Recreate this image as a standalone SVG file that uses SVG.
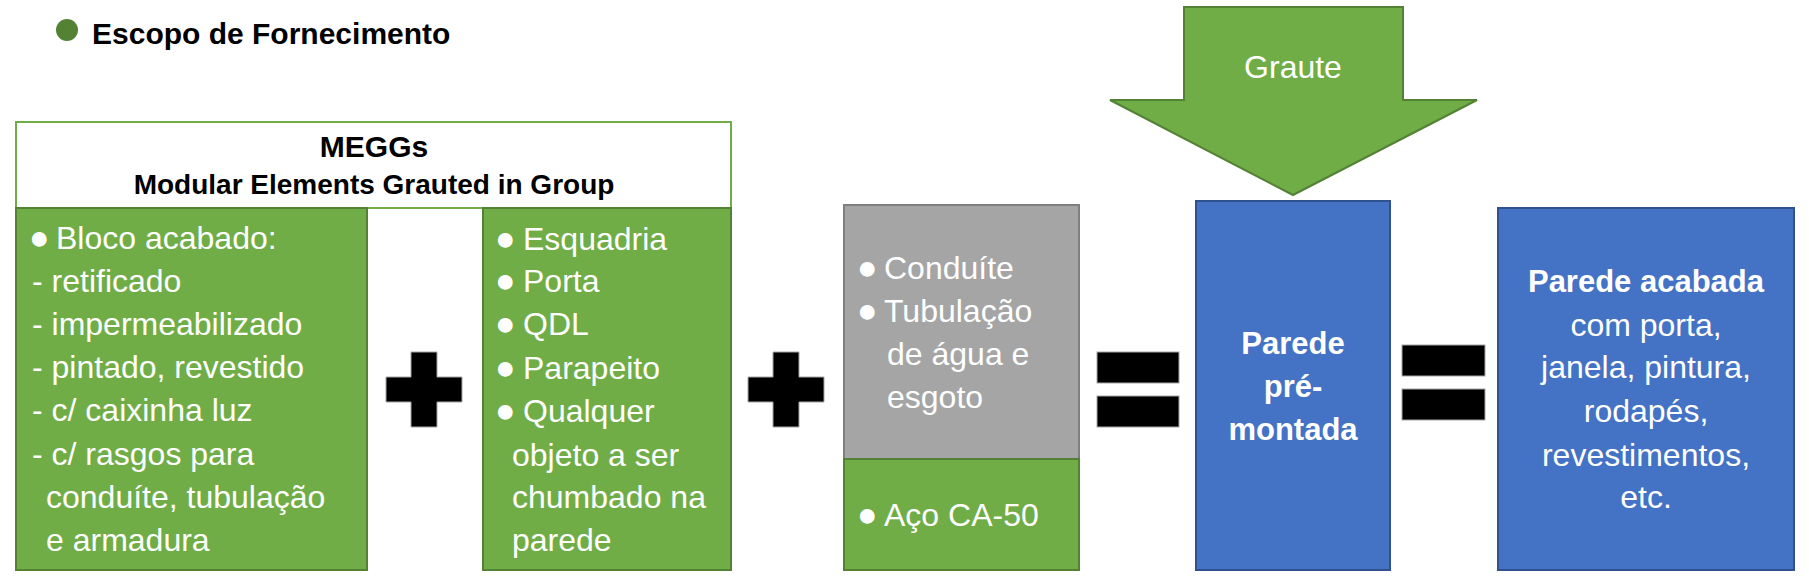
<svg xmlns="http://www.w3.org/2000/svg" width="1809" height="587" viewBox="0 0 1809 587">
<style>
text{font-family:"Liberation Sans",Arial,sans-serif}
.t{font-size:32px;fill:#fff}
.tb{font-size:31px;font-weight:bold;fill:#fff}
.bu{font-size:34px}
.c{text-anchor:middle}
.green{fill:#70AD47;stroke:#548235;stroke-width:2}
.blue{fill:#4472C4;stroke:#2F528F;stroke-width:2}
.gray{fill:#A5A5A5;stroke:#7F7F7F;stroke-width:2}
.op{fill:#000;stroke:#A5A5A5;stroke-width:1}
</style>
<rect width="1809" height="587" fill="#fff"/>
<g id="title">
<circle cx="67" cy="30" r="11" fill="#548235"/>
<text x="92" y="44" style="font-size:30px;font-weight:bold" fill="#000">Escopo de Fornecimento</text>
</g>
<g id="meggs">
<rect x="16" y="122" width="715" height="86" fill="#fff" stroke="#70AD47" stroke-width="2"/>
<text class="c" x="374" y="157" style="font-size:30px;font-weight:bold" fill="#000">MEGGs</text>
<text class="c" x="374" y="194" style="font-size:28px;font-weight:bold" fill="#000">Modular Elements Grauted in Group</text>
</g>
<g id="bloco">
<rect class="green" x="16" y="208" width="351" height="362"/>
<text class="t"><tspan class="bu" x="29" y="249">●</tspan><tspan x="56" y="249">Bloco acabado:</tspan><tspan x="32" y="292">- retificado</tspan><tspan x="32" y="335">- impermeabilizado</tspan><tspan x="32" y="378">- pintado, revestido</tspan><tspan x="32" y="421">- c/ caixinha luz</tspan><tspan x="32" y="465">- c/ rasgos para</tspan><tspan x="46" y="508">conduíte, tubulação</tspan><tspan x="46" y="551">e armadura</tspan></text>
</g>
<g id="esquadria">
<rect class="green" x="483" y="208" width="248" height="362"/>
<text class="t"><tspan class="bu" x="495" y="250">●</tspan><tspan x="523" y="250">Esquadria</tspan><tspan class="bu" x="495" y="292">●</tspan><tspan x="523" y="292">Porta</tspan><tspan class="bu" x="495" y="335">●</tspan><tspan x="523" y="335">QDL</tspan><tspan class="bu" x="495" y="379">●</tspan><tspan x="523" y="379">Parapeito</tspan><tspan class="bu" x="495" y="422">●</tspan><tspan x="523" y="422">Qualquer</tspan><tspan x="512" y="466">objeto a ser</tspan><tspan x="512" y="508">chumbado na</tspan><tspan x="512" y="551">parede</tspan></text>
</g>
<g id="instalacoes">
<rect class="gray" x="844" y="205" width="235" height="254"/>
<text class="t"><tspan class="bu" x="857" y="279">●</tspan><tspan x="884" y="279">Conduíte</tspan><tspan class="bu" x="857" y="322">●</tspan><tspan x="884" y="322">Tubulação</tspan><tspan x="887" y="365">de água e</tspan><tspan x="887" y="408">esgoto</tspan></text>
</g>
<g id="aco">
<rect class="green" x="844" y="459" width="235" height="111"/>
<text class="t"><tspan class="bu" x="857" y="526">●</tspan><tspan x="884" y="526">Aço CA-50</tspan></text>
</g>
<g id="graute">
<polygon class="green" points="1184,7 1403,7 1403,100 1477,100 1293,195 1110,100 1184,100"/>
<text class="t c" x="1293" y="78">Graute</text>
</g>
<g id="parede-pre-montada">
<rect class="blue" x="1196" y="201" width="194" height="369"/>
<text class="tb c"><tspan x="1293" y="354">Parede</tspan><tspan x="1293" y="397">pré-</tspan><tspan x="1293" y="440">montada</tspan></text>
</g>
<g id="parede-acabada">
<rect class="blue" x="1498" y="208" width="296" height="362"/>
<text class="tb c" x="1646" y="292">Parede acabada</text>
<text class="t c"><tspan x="1646" y="336">com porta,</tspan><tspan x="1646" y="378">janela, pintura,</tspan><tspan x="1646" y="422">rodapés,</tspan><tspan x="1646" y="466">revestimentos,</tspan><tspan x="1646" y="508">etc.</tspan></text>
</g>
<g id="connectors">
<path class="op" d="M411,352H437V377H462V402H437V427H411V402H386V377H411Z"/>
<path class="op" d="M773,352H799V377H824V402H799V427H773V402H748V377H773Z"/>
<rect class="op" x="1097" y="352" width="82" height="31"/>
<rect class="op" x="1097" y="396" width="82" height="31"/>
<rect class="op" x="1402" y="345" width="83" height="31"/>
<rect class="op" x="1402" y="389" width="83" height="31"/>
</g>
</svg>
